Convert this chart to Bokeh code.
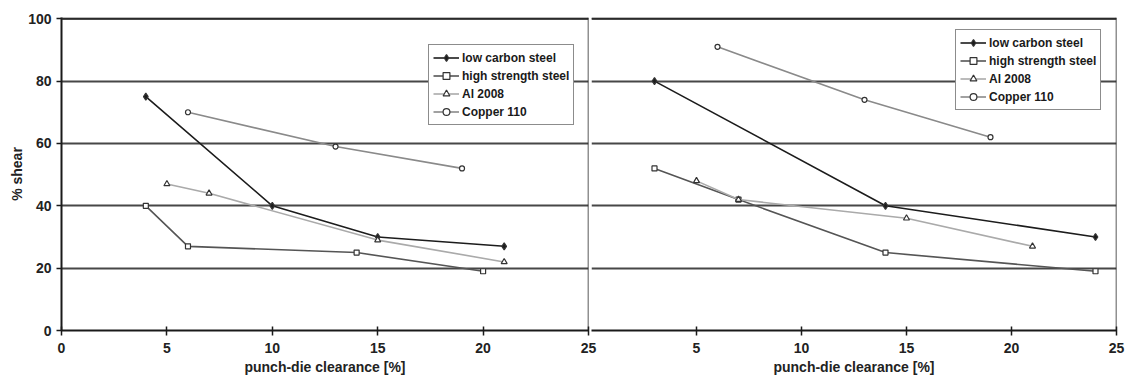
from bokeh.plotting import figure
from bokeh.layouts import row
from bokeh.models import Span, FixedTicker, Legend, LegendItem
from bokeh.embed import file_html
from bokeh.resources import INLINE

# ---- data: % shear versus punch-die clearance ----
series_names = ["low carbon steel", "high strength steel", "Al 2008", "Copper 110"]

# left panel
left_low_carbon_x = [4, 10, 15, 21]
left_low_carbon_y = [75, 40, 30, 27]
left_high_strength_x = [4, 6, 14, 20]
left_high_strength_y = [40, 27, 25, 19]
left_al_x = [5, 7, 15, 21]
left_al_y = [47, 44, 29, 22]
left_copper_x = [6, 13, 19]
left_copper_y = [70, 59, 52]

# right panel
right_low_carbon_x = [3, 14, 24]
right_low_carbon_y = [80, 40, 30]
right_high_strength_x = [3, 7, 14, 24]
right_high_strength_y = [52, 42, 25, 19]
right_al_x = [5, 7, 15, 21]
right_al_y = [48, 42, 36, 27]
right_copper_x = [6, 13, 19]
right_copper_y = [91, 74, 62]

x_ticks = [0, 5, 10, 15, 20, 25]
y_ticks = [0, 20, 40, 60, 80, 100]

FONT = "Liberation Sans"

styles = [
    # line color, marker, marker size, marker fill
    ("#1c1c1c", "diamond", 7, "#1c1c1c"),
    ("#555555", "square", 5, "white"),
    ("#aaaaaa", "triangle", 6, "white"),
    ("#8a8a8a", "circle", 5, "white"),
]


def style_axis(ax):
    ax.major_label_text_font = FONT
    ax.major_label_text_font_style = "bold"
    ax.major_label_text_font_size = "14px"
    ax.major_label_text_color = "#222222"
    ax.axis_label_text_font = FONT
    ax.axis_label_text_font_style = "bold"
    ax.axis_label_text_font_size = "14px"
    ax.axis_label_text_color = "#222222"
    ax.axis_line_color = "#1a1a1a"
    ax.axis_line_width = 2
    ax.major_tick_line_color = "#1a1a1a"
    ax.major_tick_line_width = 1.5
    ax.minor_tick_line_color = None


def make_panel(width, border_left, border_right, data, legend_loc, show_y):
    # a little headroom above 100 keeps the top frame line inside the plot area
    p = figure(width=width, height=385, x_range=(0, 25), y_range=(0, 100.4),
               output_backend="svg", toolbar_location=None,
               min_border_left=border_left, min_border_right=border_right,
               min_border_top=17, min_border_bottom=55)
    p.background_fill_color = None
    p.border_fill_color = None
    p.outline_line_color = None

    p.xgrid.grid_line_color = None
    p.ygrid.ticker = FixedTicker(ticks=y_ticks)
    p.ygrid.grid_line_color = "#474747"
    p.ygrid.grid_line_width = 2

    style_axis(p.xaxis[0])
    p.xaxis.axis_label = "punch-die clearance [%]"
    p.xaxis.major_tick_in = 4
    p.xaxis.major_tick_out = 5
    p.xaxis.major_label_standoff = 7
    p.xaxis.axis_label_standoff = 3

    if show_y:
        p.xaxis.ticker = FixedTicker(ticks=x_ticks)
        style_axis(p.yaxis[0])
        p.yaxis.ticker = FixedTicker(ticks=y_ticks)
        p.yaxis.axis_label = "% shear"
        p.yaxis.major_tick_in = 0
        p.yaxis.major_tick_out = 5
        p.yaxis.major_label_standoff = 5
        p.yaxis.axis_label_standoff = 0
    else:
        p.xaxis.ticker = FixedTicker(ticks=x_ticks[1:])
        p.yaxis.visible = False

    # top and right-hand frame edges
    p.add_layout(Span(location=100, dimension="width", line_color="#2a2a2a", line_width=2))
    p.add_layout(Span(location=25, dimension="height", line_color="#222222", line_width=1.5))

    items = []
    for name, (xs, ys), (col, mk, sz, fill) in zip(series_names, data, styles):
        ln = p.line(xs, ys, line_color=col, line_width=1.6)
        sc = p.scatter(xs, ys, marker=mk, size=sz, line_color="#333333",
                       line_width=1.2, fill_color=fill)
        items.append(LegendItem(label=name, renderers=[ln, sc]))

    leg = Legend(items=items, location=legend_loc)
    leg.label_text_font = FONT
    leg.label_text_font_style = "bold"
    leg.label_text_font_size = "12px"
    leg.label_text_color = "#1a1a1a"
    leg.border_line_color = "#1a1a1a"
    leg.border_line_width = 1.2
    leg.background_fill_color = "white"
    leg.background_fill_alpha = 1
    leg.glyph_width = 26
    leg.glyph_height = 17
    leg.label_height = 17
    leg.spacing = 1
    leg.padding = 4
    leg.margin = 0
    leg.label_standoff = 3
    p.add_layout(leg)
    return p


left = make_panel(600, 61, 12,
                  [(left_low_carbon_x, left_low_carbon_y),
                   (left_high_strength_x, left_high_strength_y),
                   (left_al_x, left_al_y),
                   (left_copper_x, left_copper_y)],
                  (367, 205), True)

right = make_panel(543, 3, 15,
                   [(right_low_carbon_x, right_low_carbon_y),
                    (right_high_strength_x, right_high_strength_y),
                    (right_al_x, right_al_y),
                    (right_copper_x, right_copper_y)],
                   (364, 220), False)
right.styles = {"margin-left": "-12px"}

layout = row(left, right)
open("out.html", "w").write(file_html(layout, INLINE))
